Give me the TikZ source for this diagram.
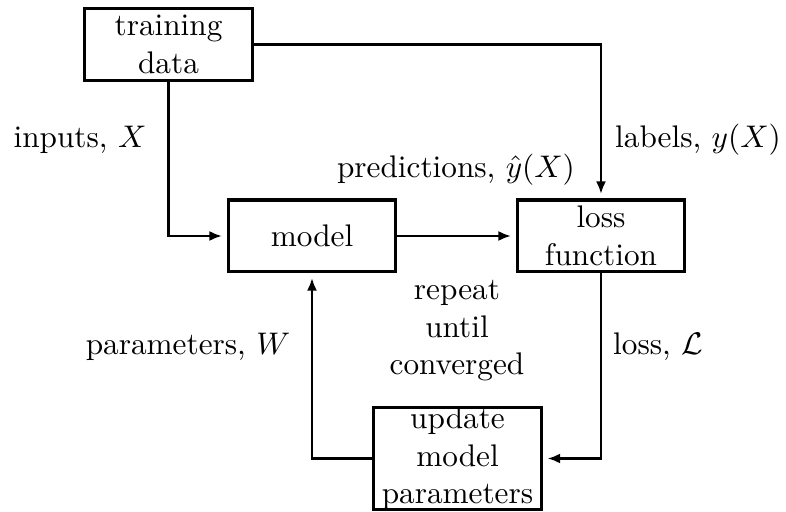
\documentclass[tikz,border=0pt]{standalone}
\usetikzlibrary{arrows.meta}

\tikzset{
  stagebox/.style={draw, line width=1pt, rectangle, inner sep=0pt,
    minimum width=53.7pt, minimum height=23pt, align=center},
  wire/.style={line width=0.65pt},
  flow/.style={wire, -{Latex[length=4pt,width=3.2pt]}, shorten >=1.5pt},
  tag/.style={anchor=base, inner sep=0pt}
}

\begin{document}
\begin{tikzpicture}[x=0.32pt, y=-0.32pt]
  \useasboundingbox (0,0) rectangle (786,512);

  % stages of the training loop
  \node[stagebox] (train) at (168.5,44.5) {training\\data};
  \node[stagebox] (model) at (312,236) {model};
  \node[stagebox] (loss) at (601,236) {loss\\function};
  \node[stagebox, minimum height=32.6pt,
        label={[align=center, inner sep=0pt]center:update\\model\\parameters}]
        (update) at (457.5,458.5) {};

  % data flow
  \draw[flow] (train.south) |- (model.west);
  \draw[flow] (train.east) -| (loss.north);
  \draw[flow] (model.east) -- (loss.west);
  \draw[flow] (loss.south) |- (update.east);
  \draw[flow] (update.west) -| (model.south);

  % edge labels
  \node[tag] (lin) at (80,148) {inputs, $X$};
  \node[tag] (llab) at (698,148) {labels, $y(X)$};
  \node[tag] (lpred) at (456,178) {predictions, $\hat{y}(X)$};
  \node[align=center, inner sep=0pt] (lrep) at (457,331) {repeat\\until\\converged};
  \node[tag] (lpar) at (188,355) {parameters, $W$};
  \node[tag] (lloss) at (658,355) {loss, $\mathcal{L}$};
\end{tikzpicture}
\end{document}
